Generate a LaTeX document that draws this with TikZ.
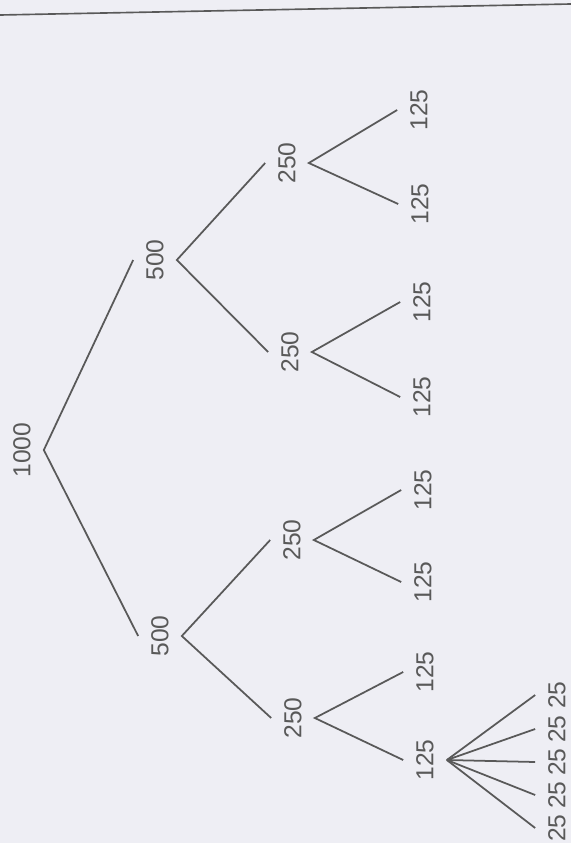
\documentclass[tikz,border=0pt]{standalone}
\usepackage{fontspec}
\setmainfont{Liberation Sans}
\usepackage{tikz}
\colorlet{ink}{black!65}
\definecolor{paper}{RGB}{238,238,244}
\usetikzlibrary{positioning}
\tikzstyle{num}=[rotate=90, inner xsep=1pt, inner ysep=11pt, text=ink,
  font=\fontsize{21}{24}\selectfont]
\tikzstyle{branch}=[draw=ink, line width=1.5pt]

\begin{document}
\begin{tikzpicture}[x=0.03cm, y=-0.03cm]
  \fill[paper] (0,0) rectangle (571,843);
  \useasboundingbox (0,0) rectangle (571,843);
  \draw[ink, line width=1.4pt] (0,15) -- (571,4);

  \node[num] (r) at (22,450) {1000};

  \node[num] (a) at (155,260) {500};
  \node[num] (b) at (160,636) {500};

  \node[num] (aa) at (287,163) {250};
  \node[num] (ab) at (290,352) {250};
  \node[num] (ba) at (292,540) {250};
  \node[num] (bb) at (293,718) {250};

  \node[num] (aaa) at (419,110) {125};
  \node[num] (aab) at (420,204) {125};
  \node[num] (aba) at (422,302) {125};
  \node[num] (abb) at (422,397) {125};
  \node[num] (baa) at (423,490) {125};
  \node[num] (bab) at (423,582) {125};
  \node[num] (bba) at (425,672) {125};
  \node[num] (bbb) at (425,760) {125};

  \draw[branch] (a.north) -- (r.south) -- (b.north);
  \draw[branch] (aa.north) -- (a.south) -- (ab.north);
  \draw[branch] (ba.north) -- (b.south) -- (bb.north);
  \draw[branch] (aaa.north) -- (aa.south) -- (aab.north);
  \draw[branch] (aba.north) -- (ab.south) -- (abb.north);
  \draw[branch] (baa.north) -- (ba.south) -- (bab.north);
  \draw[branch] (bba.north) -- (bb.south) -- (bbb.north);

  % the last 125 split five ways
  \foreach \i/\y in {1/695, 2/729, 3/762, 4/795, 5/828} {
    \node[num] (l\i) at (557,\y) {25};
    \draw[branch] (bbb.south) -- (l\i.north);
  }
\end{tikzpicture}
\end{document}
